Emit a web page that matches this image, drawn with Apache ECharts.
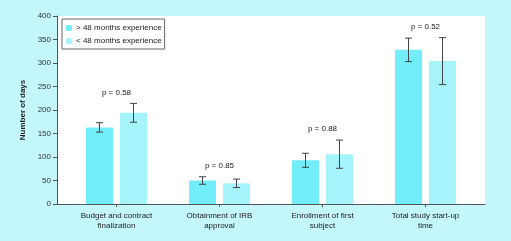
<!DOCTYPE html>
<html>
<head>
<meta charset="utf-8">
<script src="https://cdn.jsdelivr.net/npm/echarts@6/dist/echarts.min.js"></script>
<style>
  html, body { margin: 0; padding: 0; background: #c4f7fc; }
  #chart { width: 511px; height: 241px; }
</style>
</head>
<body>
<div id="chart"></div>
<script>
// data
var categories = ['Budget and contract\nfinalization', 'Obtainment of IRB\napproval', 'Enrollment of first\nsubject', 'Total study start-up\ntime'];
var seriesNames = ['> 48 months experience', '< 48 months experience'];
var moreMeans = [163, 50, 93, 328];
var moreErr = [10, 8, 15, 25];
var lessMeans = [194, 44, 106, 304];
var lessErr = [20, 9, 30, 50];
var pValues = ['p = 0.58', 'p = 0.85', 'p = 0.88', 'p = 0.52'];
var yTicks = [0, 50, 100, 150, 200, 250, 300, 350, 400];

var font = 'Liberation Sans, Arial, sans-serif';
var colMore = '#72eefb';
var colLess = '#a5f4fb';
var axisCol = '#555';

var chart = echarts.init(document.getElementById('chart'), null, { renderer: 'canvas' });

// error bar rows: [categoryIndex, low, high, seriesIdx]
var errRows = [];
for (var i = 0; i < categories.length; i++) {
  errRows.push([i, moreMeans[i] - moreErr[i], moreMeans[i] + moreErr[i], 0]);
  errRows.push([i, lessMeans[i] - lessErr[i], lessMeans[i] + lessErr[i], 1]);
}
var pRows = [];
for (var j = 0; j < categories.length; j++) {
  pRows.push([j, Math.max(moreMeans[j] + moreErr[j], lessMeans[j] + lessErr[j]), pValues[j]]);
}

var barW = 27;
var gapPx = 7;

function renderErr(params, api) {
  var c = api.value(0);
  var lo = api.coord([c, api.value(1)]);
  var hi = api.coord([c, api.value(2)]);
  var off = (barW + gapPx) / 2;
  var x = lo[0] + (api.value(3) === 0 ? -off : off);
  var cap = 3.5;
  var st = { stroke: '#444', lineWidth: 1 };
  return {
    type: 'group',
    children: [
      { type: 'line', shape: { x1: x, y1: hi[1], x2: x, y2: lo[1] }, style: st },
      { type: 'line', shape: { x1: x - cap, y1: hi[1], x2: x + cap, y2: hi[1] }, style: st },
      { type: 'line', shape: { x1: x - cap, y1: lo[1], x2: x + cap, y2: lo[1] }, style: st }
    ]
  };
}

function renderP(params, api) {
  var pt = api.coord([api.value(0), api.value(1)]);
  return {
    type: 'text',
    x: pt[0],
    y: pt[1] - 7,
    style: {
      text: pRows[params.dataIndex][2],
      fill: '#222',
      font: '8px ' + font,
      align: 'center',
      verticalAlign: 'bottom'
    }
  };
}

var option = {
  backgroundColor: '#c4f7fc',
  animation: false,
  textStyle: { fontFamily: font },
  legend: {
    left: 62,
    top: 19,
    orient: 'vertical',
    itemWidth: 6,
    itemHeight: 6,
    itemGap: 5,
    padding: [5, 3, 4, 4],
    borderColor: '#666',
    borderWidth: 1,
    backgroundColor: '#fff',
    borderRadius: 0,
    data: seriesNames,
    textStyle: { fontSize: 8, color: '#222', fontFamily: font, padding: [0, 0, 0, -1] }
  },
  grid: [
    { left: 57, right: 26, top: 16, bottom: 37, show: true, backgroundColor: '#fff', borderWidth: 0 },
    { left: 65, right: 34, top: 16, bottom: 37 }
  ],
  xAxis: [
    {
      gridIndex: 0, type: 'category', data: categories,
      axisLine: { lineStyle: { color: axisCol } },
      axisTick: { show: false }, axisLabel: { show: false }
    },
    {
      gridIndex: 1, type: 'category', data: categories,
      axisLine: { show: false },
      axisTick: { show: true, alignWithLabel: true, length: 3, lineStyle: { color: axisCol } },
      axisLabel: { fontSize: 8, color: '#222', fontFamily: font, lineHeight: 10, margin: 7 }
    }
  ],
  yAxis: [
    {
      gridIndex: 0, type: 'value', min: 0, max: 400, interval: 50,
      name: 'Number of days', nameLocation: 'middle', nameGap: 28,
      nameTextStyle: { fontSize: 8, fontWeight: 'bold', color: '#222', fontFamily: font },
      axisLine: { show: true, lineStyle: { color: axisCol } },
      axisTick: { show: true, length: 4, lineStyle: { color: axisCol } },
      axisLabel: { fontSize: 8, color: '#333', margin: 6, fontFamily: font,
        formatter: function (v) { return yTicks.indexOf(v) >= 0 ? String(v) : ''; } },
      splitLine: { show: false }
    },
    {
      gridIndex: 1, type: 'value', min: 0, max: 400, interval: 50,
      axisLine: { show: false }, axisTick: { show: false }, axisLabel: { show: false }, splitLine: { show: false }
    }
  ],
  series: [
    {
      name: seriesNames[0], type: 'bar', xAxisIndex: 1, yAxisIndex: 1,
      data: moreMeans, barWidth: barW, barGap: (gapPx / barW * 100) + '%',
      itemStyle: { color: colMore }
    },
    {
      name: seriesNames[1], type: 'bar', xAxisIndex: 1, yAxisIndex: 1,
      data: lessMeans, barWidth: barW,
      itemStyle: { color: colLess }
    },
    {
      type: 'custom', xAxisIndex: 1, yAxisIndex: 1, data: errRows,
      renderItem: renderErr, z: 5, silent: true
    },
    {
      type: 'custom', xAxisIndex: 1, yAxisIndex: 1, data: pRows,
      renderItem: renderP, z: 5, silent: true
    }
  ]
};
chart.setOption(option);
</script>
</body>
</html>
